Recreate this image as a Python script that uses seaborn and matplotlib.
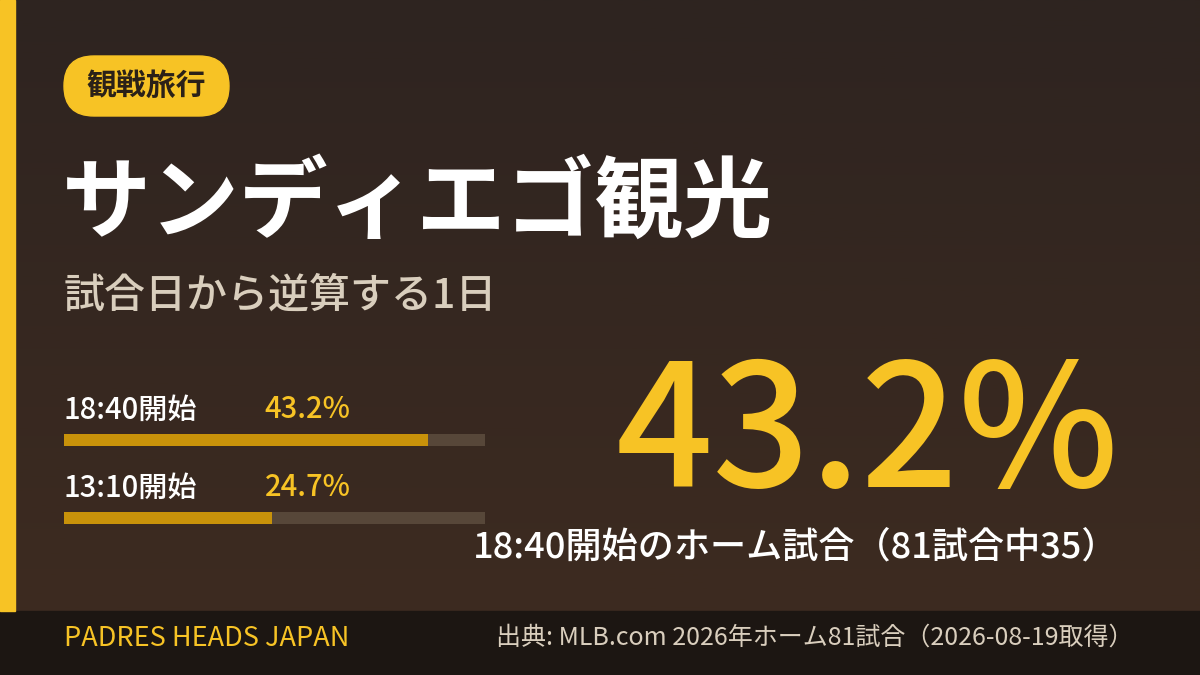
import numpy as np
import pandas as pd
import matplotlib
matplotlib.use("Agg")
import matplotlib.pyplot as plt
from matplotlib.patches import FancyBboxPatch, Rectangle
from matplotlib.colors import LinearSegmentedColormap
import seaborn as sns

# ---------------- data ----------------
start_times = ["18:40", "13:10"]
shares = [43.2, 24.7]
scale_max = 50
total_games = 81
games_1840 = 35
tag_text = "観戦旅行"
title_text = "サンディエゴ観光"
subtitle_text = "試合日から逆算する1日"
brand_text = "PADRES HEADS JAPAN"
source_text = "出典: MLB.com 2026年ホーム81試合（2026-08-19取得）"

# ---------------- style ----------------
sns.set_theme(style="white")
plt.rcParams["font.family"] = ["Noto Sans CJK JP", "DejaVu Sans"]

YELLOW = "#f7c325"
GOLD = "#c8920a"
TRACK = "#574739"
BEIGE = "#d9cebd"
FOOT = "#1c1612"
W, H = 1200, 675

fig = plt.figure(figsize=(12, 6.75), dpi=100)

# background axes in pixel coordinates
bg = fig.add_axes([0, 0, 1, 1])
bg.set_xlim(0, W)
bg.set_ylim(H, 0)
bg.axis("off")
cmap = LinearSegmentedColormap.from_list("bg", ["#2e2420", "#3d2b20"])
grad = np.linspace(0, 1, 256).reshape(-1, 1)
bg.imshow(grad, cmap=cmap, extent=[0, W, 611, 0], aspect="auto", zorder=0)
bg.add_patch(Rectangle((0, 611), W, H - 611, color=FOOT, zorder=1))
bg.add_patch(Rectangle((0, 0), 15, 611, color=YELLOW, zorder=1))

# tag pill
bg.add_patch(FancyBboxPatch((64, 56), 165, 60,
                            boxstyle="round,pad=0,rounding_size=30",
                            color=YELLOW, zorder=2))
bg.text(146.5, 86, tag_text, fontsize=21.5, fontweight="bold", color="#2b2118",
        ha="center", va="center", zorder=3)

# title / subtitle
bg.text(62, 205, title_text, fontsize=64, fontweight="bold", color="white",
        ha="left", va="center", zorder=3)
bg.text(64, 296, subtitle_text, fontsize=29.5, fontweight="medium", color=BEIGE,
        ha="left", va="center", zorder=3)

# big number
bg.text(1119, 487, f"{shares[0]:.1f}%", fontsize=123, fontweight="medium",
        color=YELLOW, ha="right", va="baseline", zorder=3)
bg.text(1118, 548,
        f"{start_times[0]}開始のホーム試合（{total_games}試合中{games_1840}）",
        fontsize=26, fontweight="medium", color="white",
        ha="right", va="center", zorder=3)

# footer
bg.text(64, 638, brand_text, fontsize=19.5, color=YELLOW, ha="left",
        va="center", zorder=3)
bg.text(1134, 638, source_text, fontsize=18, color=BEIGE, ha="right",
        va="center", zorder=3)

# ---------------- bars ----------------
df = pd.DataFrame({"label": [f"{t}開始" for t in start_times],
                   "share": shares,
                   "track": [scale_max] * len(shares)})

x0, x1 = 64, 485
ytop, ybot = 401, 557
ax = fig.add_axes([x0 / W, 1 - ybot / H, (x1 - x0) / W, (ybot - ytop) / H])
ax.set_facecolor("none")
sns.barplot(data=df, y="label", x="track", color=TRACK, width=0.155,
            orient="h", ax=ax, saturation=1, linewidth=0, zorder=1)
sns.barplot(data=df, y="label", x="share", color=GOLD, width=0.155,
            orient="h", ax=ax, saturation=1, linewidth=0, zorder=2)
ax.set_xlim(0, scale_max)
ax.set_ylim(1.5, -0.5)
ax.axis("off")
for i, row in df.iterrows():
    ax.text(0, i - 0.385, row["label"], fontsize=21, fontweight="medium",
            color="white", ha="left", va="center")
    ax.text(23.85, i - 0.385, f"{row['share']:.1f}%", fontsize=21,
            fontweight="medium", color=YELLOW, ha="left", va="center")

fig.savefig("out.png", dpi=100)
